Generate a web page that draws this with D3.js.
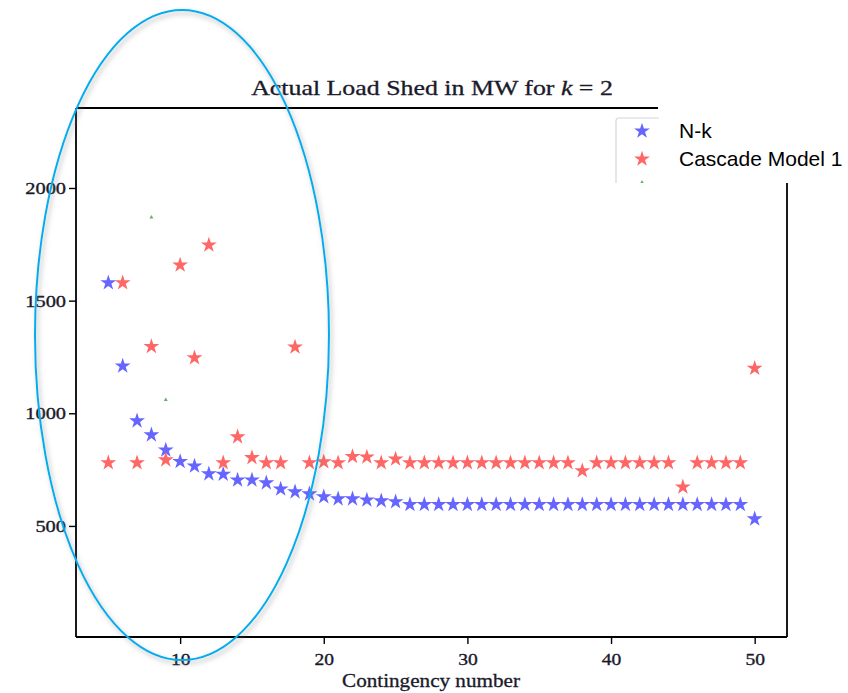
<!DOCTYPE html>
<html>
<head>
<meta charset="utf-8">
<script src="https://cdn.jsdelivr.net/npm/d3@7/dist/d3.min.js"></script>
<style>
  html, body { margin: 0; padding: 0; background: #fff; }
  svg { display: block; }
</style>
</head>
<body>
<svg id="chart" width="848" height="693"></svg>
<script>
// ---------------- data ----------------
const contingency = [5,6,7,8,9,10,11,12,13,14,15,16,17,18,19,20,21,22,23,24,25,26,27,28,29,30,
  31,32,33,34,35,36,37,38,39,40,41,42,43,44,45,46,47,48,49,50];
const nkLoadShed = [1579,1210,966,904,837,786,766,731,729,704,704,691,664,651,642,629,620,620,615,611,607,
  595,595,595,595,595,595,595,595,595,595,595,595,595,595,595,595,595,595,595,595,595,595,595,595,531];
const cascadeLoadShed = [780,1579,780,1296,793,1658,1246,1747,780,895,803,780,780,1294,780,785,780,808,806,780,797,
  780,780,780,780,780,780,780,780,780,780,780,780,745,780,780,780,780,780,780,673,780,780,780,780,1200];
// partly hidden third series (only fragments visible)
const hiddenX = [8, 9, 12];
const hiddenLoadShed = [1870, 1060, 1742];

const xTicks = [10, 20, 30, 40, 50];
const yTicks = [500, 1000, 1500, 2000];
const legendLabels = ["N-k", "Cascade Model 1"];
const titleText = "Actual Load Shed in MW for ";
const xLabel = "Contingency number";

// ---------------- layout ----------------
const svg = d3.select("#chart");
const pLeft = 76, pRight = 787, pTop = 108, pBottom = 637;
const x = d3.scaleLinear().domain([2.75, 52.25]).range([pLeft, pRight]);
const y = d3.scaleLinear().domain([7, 2355]).range([pBottom, pTop]);

const serif = "'Liberation Serif', 'DejaVu Serif', serif";
const blue = "rgb(102,102,255)", red = "rgb(255,102,102)", green = "rgb(102,179,102)";

function stretchTo(sel, targetWidth, anchorX) {
  const w = sel.node().getComputedTextLength();
  const s = targetWidth / w;
  sel.attr("transform", `translate(${anchorX},0) scale(${s},1) translate(${-anchorX},0)`);
}

// defs: shadow for ellipse
const defs = svg.append("defs");
const f = defs.append("filter").attr("id", "shadow").attr("x", "-20%").attr("y", "-20%")
  .attr("width", "140%").attr("height", "140%");
f.append("feDropShadow").attr("dx", 2).attr("dy", 3).attr("stdDeviation", 2.5)
  .attr("flood-color", "#777").attr("flood-opacity", 0.55);

// axes
const xAxis = d3.axisBottom(x).tickValues(xTicks).tickSize(7).tickPadding(9).tickFormat(d3.format("d"));
const yAxis = d3.axisLeft(y).tickValues(yTicks).tickSize(7).tickPadding(3).tickFormat(d3.format("d"));

const gx = svg.append("g").attr("transform", `translate(0,${pBottom})`).call(xAxis);
const gy = svg.append("g").attr("transform", `translate(${pLeft},0)`).call(yAxis);
[gx, gy].forEach(g => {
  g.select(".domain").remove();
  g.selectAll(".tick line").attr("stroke", "#000").attr("stroke-width", 1.4);
  g.selectAll(".tick text").attr("fill", "#1a1a2a").attr("stroke", "#1a1a2a").attr("stroke-width", 0.35)
    .style("font-family", serif).style("font-size", "17px");
});
gx.selectAll(".tick text").attr("transform", "scale(1.15,1)");
gy.selectAll(".tick text").each(function() {
  const t = d3.select(this);
  const xa = +t.attr("x");
  t.attr("transform", `translate(${xa},0) scale(1.2,1) translate(${-xa},0)`);
});

// spines (partly hidden by pasted legend)
const spines = svg.append("g").attr("stroke", "#000").attr("stroke-width", 1.8).attr("fill", "none");
spines.append("line").attr("x1", pLeft).attr("x2", pLeft).attr("y1", pTop).attr("y2", pBottom);
spines.append("line").attr("x1", pLeft).attr("x2", pRight).attr("y1", pBottom).attr("y2", pBottom);
spines.append("line").attr("x1", pLeft).attr("x2", 658).attr("y1", pTop).attr("y2", pTop);
spines.append("line").attr("x1", pRight).attr("x2", pRight).attr("y1", 183).attr("y2", pBottom);

// star markers
const star = d3.symbol().type(d3.symbolStar).size(78);

svg.append("g").selectAll("path").data(hiddenX).join("path")
  .attr("d", d3.symbol().type(d3.symbolTriangle).size(7))
  .attr("transform", (d, i) => `translate(${x(d)},${y(hiddenLoadShed[i])})`)
  .attr("fill", green);

svg.append("g").selectAll("path").data(contingency).join("path")
  .attr("d", star)
  .attr("transform", (d, i) => `translate(${x(d)},${y(nkLoadShed[i])})`)
  .attr("fill", blue);

svg.append("g").selectAll("path").data(contingency).join("path")
  .attr("d", star)
  .attr("transform", (d, i) => `translate(${x(d)},${y(cascadeLoadShed[i])})`)
  .attr("fill", red);

// title
const title = svg.append("text").attr("x", 432).attr("y", 95).attr("text-anchor", "middle")
  .style("font-family", serif).style("font-size", "21px")
  .attr("fill", "#1a1a2a").attr("stroke", "#1a1a2a").attr("stroke-width", 0.3);
title.append("tspan").text(titleText);
title.append("tspan").style("font-style", "italic").text("k");
title.append("tspan").text(" = 2");
stretchTo(title, 362, 432);

// x label
const xl = svg.append("text").attr("x", 431).attr("y", 687).attr("text-anchor", "middle")
  .style("font-family", serif).style("font-size", "18px")
  .attr("fill", "#1a1a2a").attr("stroke", "#1a1a2a").attr("stroke-width", 0.3).text(xLabel);
stretchTo(xl, 178, 431);

// legend: matplotlib frame fragment, then pasted white patch with text
const lg = svg.append("g");
lg.append("path").attr("d", "M616,183 L616,121 Q616,118 619,118 L660,118")
  .attr("fill", "none").attr("stroke", "#d6d6d6").attr("stroke-width", 1.2);
const legColors = [blue, red];
lg.selectAll("path.m").data(legendLabels).join("path")
  .attr("class", "m")
  .attr("d", star)
  .attr("transform", (d, i) => `translate(642,${131 + i * 28})`)
  .attr("fill", (d, i) => legColors[i]);
lg.append("path").attr("d", d3.symbol().type(d3.symbolTriangle).size(5))
  .attr("transform", "translate(642,182)").attr("fill", green);
lg.append("rect").attr("x", 659).attr("y", 95).attr("width", 189).attr("height", 88).attr("fill", "#fff");
lg.selectAll("text").data(legendLabels).join("text")
  .attr("x", 679).attr("y", (d, i) => 138 + i * 28)
  .style("font-family", "'Liberation Sans', Arial, sans-serif").style("font-size", "21px")
  .attr("fill", "#000").text(d => d);

// blue annotation ellipse
svg.append("ellipse").attr("cx", 182).attr("cy", 335).attr("rx", 147).attr("ry", 325)
  .attr("fill", "none").attr("stroke", "#00AEEF").attr("stroke-width", 2)
  .attr("filter", "url(#shadow)");
</script>
</body>
</html>
